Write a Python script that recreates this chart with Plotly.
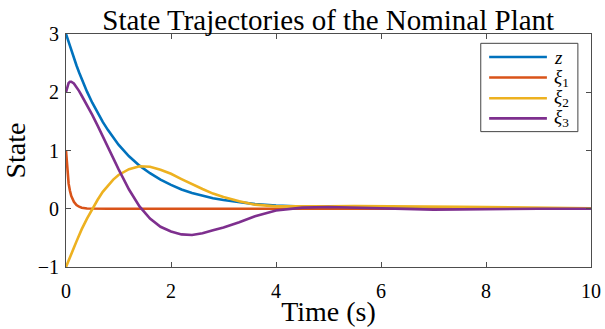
import plotly.graph_objects as go

# Time samples (s)
t = [0, 0.025, 0.05, 0.075, 0.1, 0.15, 0.2, 0.25, 0.3, 0.4, 0.5, 0.6, 0.7, 0.8, 0.9, 1.0,
     1.2, 1.4, 1.6, 1.8, 2.0, 2.2, 2.4, 2.6, 2.8, 3.0, 3.3, 3.6, 4.0, 4.5, 5.0, 5.5, 6.0,
     6.5, 7.0, 7.5, 8.0, 8.2, 8.35, 8.5, 9.0, 9.5, 10.0]

# State values
z = [3.0, 2.93, 2.85, 2.78, 2.71, 2.58, 2.46, 2.34, 2.22, 2.01, 1.82, 1.65, 1.49, 1.35, 1.22, 1.10,
     0.90, 0.74, 0.61, 0.50, 0.41, 0.33, 0.27, 0.22, 0.18, 0.15, 0.11, 0.08, 0.055, 0.035, 0.02, 0.012, 0.008,
     0.005, 0.003, 0.002, 0.001, 0.001, 0.001, 0.001, 0.0, 0.0, 0.0]
xi1 = [1.0, 0.62, 0.43, 0.31, 0.22, 0.12, 0.065, 0.035, 0.018, 0.005, 0.001, 0.0, 0.0, 0.0, 0.0, 0.0,
       0.0, 0.0, 0.0, 0.0, 0.0, 0.0, 0.0, 0.0, 0.0, 0.0, 0.0, 0.0, 0.0, 0.0, 0.0, 0.0, 0.0,
       0.0, 0.0, 0.0, 0.0, 0.0, 0.025, 0.0, 0.0, 0.0, 0.0]
xi2 = [-1.0, -0.95, -0.9, -0.85, -0.8, -0.67, -0.56, -0.45, -0.35, -0.17, 0.0, 0.15, 0.29, 0.40, 0.50, 0.58,
       0.68, 0.73, 0.72, 0.67, 0.60, 0.51, 0.42, 0.34, 0.26, 0.20, 0.13, 0.07, 0.04, 0.035, 0.04, 0.045, 0.045,
       0.04, 0.04, 0.035, 0.03, 0.028, 0.025, 0.02, 0.015, 0.01, 0.008]
xi3 = [2.0, 2.1, 2.16, 2.18, 2.18, 2.15, 2.09, 2.02, 1.94, 1.78, 1.61, 1.43, 1.24, 1.05, 0.86, 0.68,
       0.33, 0.04, -0.17, -0.31, -0.39, -0.44, -0.45, -0.42, -0.37, -0.32, -0.23, -0.13, -0.03, 0.02, 0.03, 0.02, 0.0,
       -0.01, -0.015, -0.01, -0.005, 0.0, 0.0, 0.0, 0.0, 0.0, 0.0]

names = ["<i>z</i>", "<i>ξ</i><sub>1</sub>", "<i>ξ</i><sub>2</sub>", "<i>ξ</i><sub>3</sub>"]
series = [z, xi1, xi2, xi3]
colors = ["#0072BD", "#D95319", "#EDB120", "#7E2F8E"]

FONT = "Liberation Serif"
AXIS_COLOR = "#4d4d4d"

fig = go.Figure()
for ys, name, c in zip(series, names, colors):
    fig.add_trace(go.Scatter(x=t, y=ys, mode="lines", name=name, showlegend=False,
                             line={"color": c, "width": 2.6}))

# MATLAB-style legend box drawn by hand (longer line samples than plotly's legend)
shapes = [dict(type="rect", xref="paper", yref="paper", x0=0.790, x1=0.975, y0=0.581, y1=0.960,
               line={"color": "#444444", "width": 1}, fillcolor="white", layer="above")]
annotations = []
legend_y = [0.901, 0.813, 0.724, 0.638]
for name, c, ly in zip(names, colors, legend_y):
    shapes.append(dict(type="line", xref="paper", yref="paper", x0=0.806, x1=0.916, y0=ly, y1=ly,
                       line={"color": c, "width": 2.6}, layer="above"))
    annotations.append(dict(xref="paper", yref="paper", x=0.926, y=ly, text=name, showarrow=False,
                            xanchor="left", yanchor="middle", font={"size": 19, "color": "black", "family": FONT}))

axis_common = dict(showline=True, linecolor=AXIS_COLOR, linewidth=1, mirror="ticks", ticks="inside",
                   ticklen=5, tickcolor=AXIS_COLOR, showgrid=False, zeroline=False, automargin=False,
                   tickfont={"size": 20, "color": "black", "family": FONT})

fig.update_layout(
    width=605,
    height=329,
    margin={"l": 66, "r": 14, "t": 34, "b": 62},
    paper_bgcolor="white",
    plot_bgcolor="white",
    title={"text": "State Trajectories of the Nominal Plant", "x": 0.5425, "xanchor": "center",
           "y": 0.94, "yref": "container", "yanchor": "middle", "automargin": False,
           "font": {"size": 29, "color": "black", "family": FONT}},
    xaxis=dict(axis_common, range=[0, 10], dtick=2, tick0=0, ticklabelstandoff=6,
               title={"text": "Time (s)", "font": {"size": 28, "color": "black", "family": FONT}, "standoff": 0}),
    yaxis=dict(axis_common, range=[-1, 3], dtick=1, tick0=-1, ticklabelstandoff=2,
               title={"text": "State", "font": {"size": 28, "color": "black", "family": FONT}, "standoff": 6}),
    shapes=shapes,
    annotations=annotations,
    showlegend=False,
)

# drop the browser's default body margin so the figure sits at the page corner
fig.write_html("out.html", config={"displayModeBar": False},
               post_script="document.body.style.margin = '0';")
